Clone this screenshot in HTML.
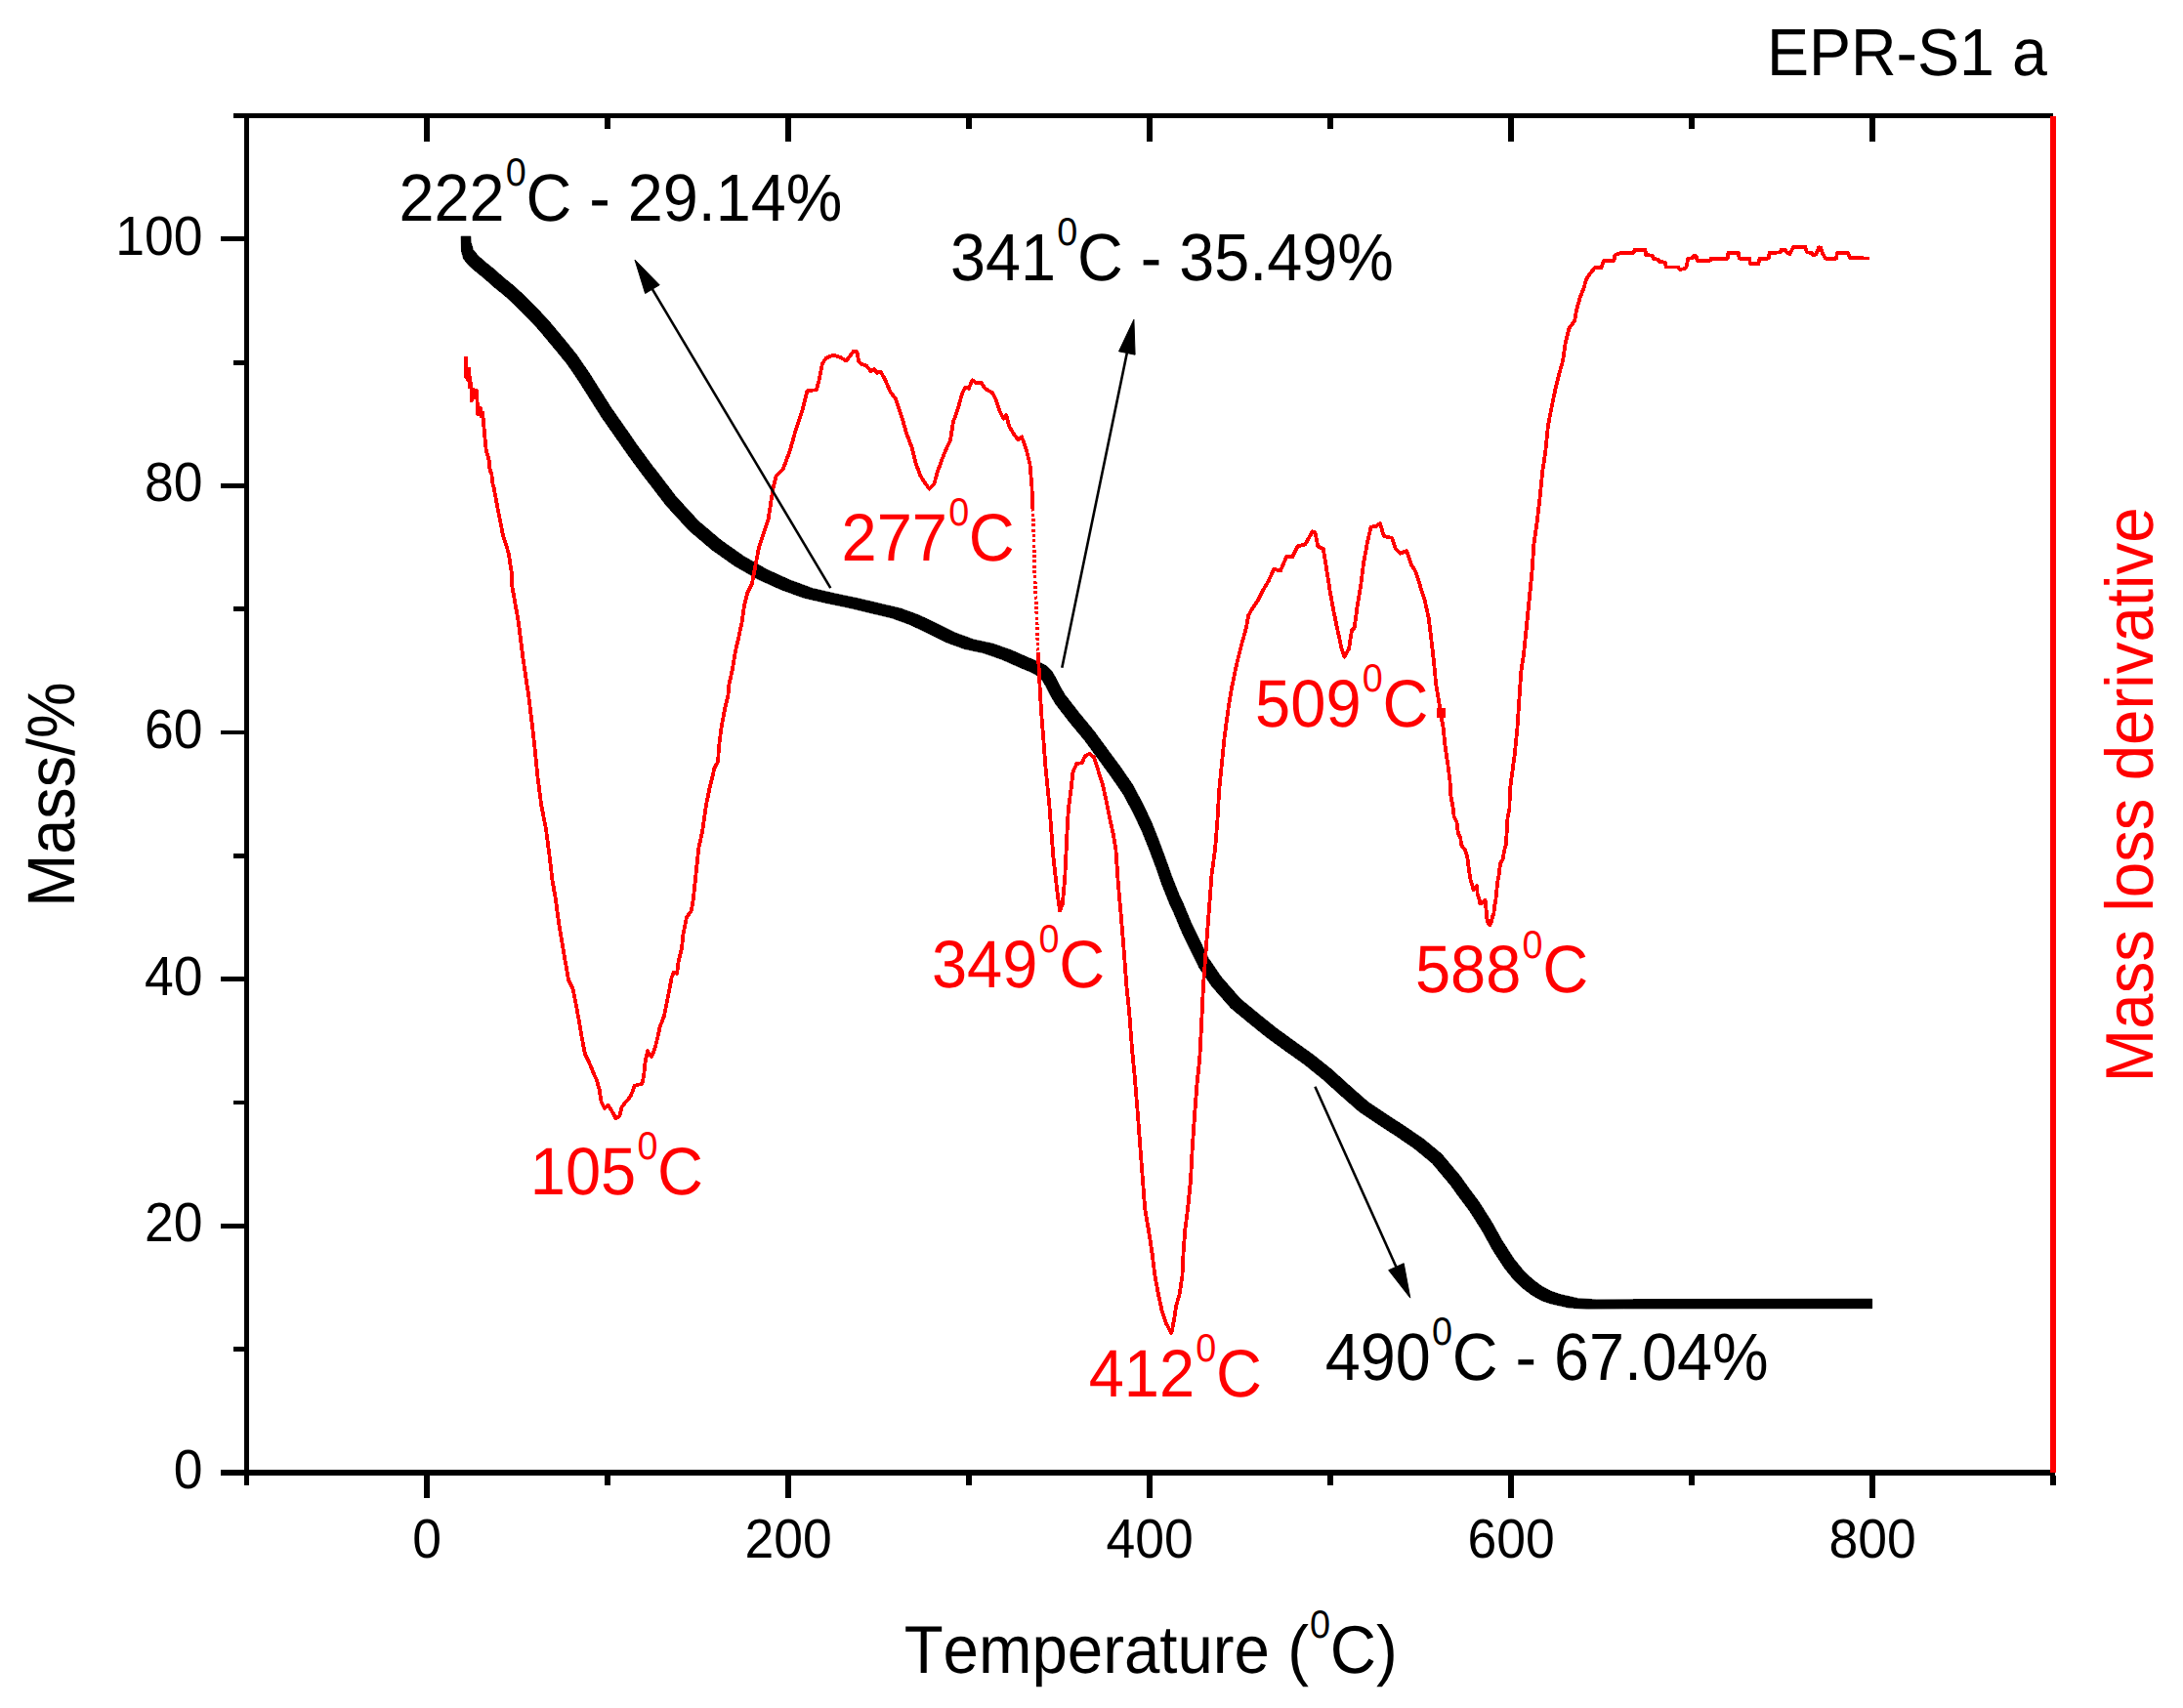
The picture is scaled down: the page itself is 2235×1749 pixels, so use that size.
<!DOCTYPE html>
<html lang="en"><head><meta charset="utf-8"><title>EPR-S1 a</title>
<style>html,body{margin:0;padding:0;background:#fff;}body{width:2235px;height:1749px;overflow:hidden;}svg{display:block;}text{font-family:"Liberation Sans", Arial, Helvetica, sans-serif;font-kerning:none;text-rendering:geometricPrecision;}</style></head><body>
<svg width="2235" height="1749" viewBox="0 0 2235 1749">
<rect x="0" y="0" width="2235" height="1749" fill="#ffffff"/>
<g fill="none" stroke-linejoin="round" shape-rendering="crispEdges">
<polygon points="481.9,242.0 482.2,248.0 484.4,255.5 489.6,261.9 497.1,268.5 506.4,276.0 515.8,284.4 525.1,291.9 534.5,300.3 543.9,309.8 553.2,319.1 562.6,329.4 572.0,340.6 581.4,351.9 590.6,363.4 598.1,374.4 604.0,383.1 625.8,417.6 644.9,444.9 652.6,456.1 668.2,477.3 674.0,484.6 691.6,507.8 715.1,533.5 738.6,553.4 762.0,569.9 785.4,583.2 808.8,593.9 832.2,602.5 855.6,607.9 879.1,612.8 903.6,618.6 922.4,623.0 941.1,629.9 959.8,638.8 978.6,648.1 997.2,654.9 1016.0,658.9 1034.8,665.4 1053.4,673.6 1064.2,678.1 1071.8,682.1 1076.8,687.1 1080.1,692.6 1084.8,701.9 1090.4,711.4 1104.9,730.0 1120.4,748.9 1134.0,767.5 1147.8,786.2 1159.9,803.9 1169.8,822.6 1178.8,841.4 1186.2,860.0 1193.2,878.9 1199.8,897.5 1207.2,916.2 1211.4,925.1 1219.2,943.9 1228.1,962.6 1237.4,981.4 1250.1,1000.0 1269.8,1022.6 1288.5,1038.1 1307.2,1053.1 1325.9,1066.7 1344.8,1080.2 1363.5,1095.2 1382.3,1112.2 1401.0,1128.6 1419.8,1141.2 1438.5,1153.4 1457.2,1166.1 1475.9,1181.5 1494.8,1204.0 1501.8,1213.9 1514.3,1230.7 1527.4,1251.4 1537.8,1270.1 1549.9,1288.9 1559.8,1301.1 1569.1,1310.0 1578.5,1317.0 1587.8,1322.1 1597.2,1325.4 1615.9,1329.6 1634.8,1330.8 1672.2,1330.5 1916.6,1330.1 1916.6,1339.8 1662.6,1340.1 1625.1,1340.4 1606.2,1339.2 1587.6,1335.0 1578.2,1331.8 1568.9,1326.6 1559.5,1319.6 1550.1,1310.8 1540.2,1298.5 1528.1,1279.8 1517.8,1261.0 1504.7,1240.3 1492.1,1223.5 1485.1,1213.6 1466.2,1191.1 1447.6,1175.8 1428.9,1163.0 1410.1,1150.8 1391.4,1138.2 1372.7,1121.8 1353.9,1104.9 1335.2,1089.8 1316.2,1076.3 1297.6,1062.8 1278.9,1047.8 1260.1,1032.2 1240.5,1009.8 1227.8,991.1 1218.5,972.4 1209.6,953.6 1201.8,934.9 1197.6,926.0 1190.1,907.2 1183.6,888.6 1176.6,869.8 1169.1,851.1 1160.2,832.4 1150.2,813.6 1138.1,796.0 1124.4,777.2 1110.8,758.6 1095.2,739.8 1080.8,721.1 1075.2,711.6 1070.5,702.4 1067.2,696.9 1062.2,691.9 1054.6,687.9 1043.8,683.4 1025.1,675.1 1006.2,668.6 987.5,664.6 968.9,657.9 950.0,648.5 931.4,639.6 912.6,632.8 893.9,628.4 869.4,622.5 845.9,617.6 822.5,612.2 799.0,603.6 775.6,593.0 752.2,579.6 728.9,563.1 705.4,543.2 681.9,517.5 664.2,494.4 658.5,487.1 642.9,465.9 635.1,454.7 616.0,427.4 594.2,392.9 588.4,384.2 580.9,373.2 571.6,361.7 562.2,350.4 552.9,339.2 543.5,328.9 534.1,319.5 524.8,310.1 515.4,301.7 506.0,294.2 496.6,285.8 487.3,278.2 479.8,271.7 474.6,265.2 472.5,257.7 472.1,242.0" fill="#000000" stroke="#000000" stroke-width="0.6" stroke-linejoin="round"/>
<polyline points="477.0,365.1 476.7,385.9 478.1,377.5 478.6,388.7 480.4,377.5 480.9,396.2 482.3,392.5 482.8,410.3 485.1,399.0 486.1,407.4 487.9,400.0 488.9,417.8 489.3,424.3 491.7,417.8 492.6,426.2 494.0,422.4 495.0,431.8 495.9,443.0 496.8,452.4 497.8,461.8 499.2,465.5 500.6,471.1 501.5,480.5 503.4,486.1 504.3,494.6 505.7,500.0 510.3,524.4 514.9,547.9 520.8,566.6 524.3,590.0 524.3,600.0 530.9,637.5 535.6,674.9 541.2,712.4 544.9,742.4 547.8,768.6 550.6,796.7 554.3,824.8 559.0,849.2 562.7,877.3 565.3,900.0 568.9,921.1 571.7,942.2 575.2,963.2 578.7,984.3 582.2,1004.0 586.4,1012.4 589.9,1029.3 592.7,1044.7 595.5,1061.6 599.1,1079.9 603.3,1088.3 606.8,1096.7 611.0,1106.5 613.8,1116.4 615.6,1128.4 618.9,1135.0 622.8,1131.7 626.1,1137.2 628.3,1141.0 630.5,1145.4 634.3,1142.7 636.5,1133.9 639.8,1129.5 643.1,1126.2 646.4,1120.7 649.7,1111.9 657.4,1109.7 659.1,1102.0 660.2,1091.0 660.9,1085.5 663.0,1076.3 667.2,1082.0 670.7,1072.8 673.5,1061.6 675.6,1051.7 679.9,1040.5 682.7,1026.5 685.5,1012.4 687.6,1001.2 689.7,995.5 693.2,997.0 694.6,984.3 698.1,970.3 699.5,956.2 703.0,939.3 708.0,932.3 710.1,918.3 712.6,894.2 715.4,867.9 719.2,851.1 722.9,824.8 726.7,806.1 729.5,794.9 731.4,786.4 735.1,779.9 736.0,764.9 738.9,742.4 742.6,723.7 745.4,712.4 746.3,701.2 750.1,684.3 752.9,667.4 756.7,650.6 759.5,637.5 762.3,618.7 765.1,607.5 769.8,598.0 777.2,559.6 786.6,531.5 791.3,501.0 794.8,487.0 801.8,480.0 808.9,461.2 814.7,440.1 821.7,419.1 826.4,400.3 835.8,399.2 838.5,390.0 840.0,381.8 841.9,372.5 845.6,366.8 853.1,363.5 860.6,365.9 866.2,369.6 870.0,365.0 873.7,359.7 877.5,360.3 879.3,370.6 883.1,373.4 886.8,374.3 891.5,380.0 895.3,378.1 898.1,381.8 901.8,380.9 906.5,389.3 911.2,400.6 916.8,408.1 920.6,419.3 924.3,430.5 928.1,443.7 933.7,458.6 937.4,473.6 942.1,486.7 946.8,494.2 951.5,500.8 956.2,496.1 959.9,483.0 964.6,469.9 969.3,458.6 973.0,451.1 975.8,432.4 980.5,419.3 985.2,402.4 988.0,396.8 991.8,397.8 995.5,389.3 999.3,392.1 1004.9,392.1 1008.6,397.8 1016.1,402.4 1019.9,409.9 1023.6,421.2 1027.4,428.7 1030.2,424.9 1033.0,436.2 1038.6,445.5 1042.3,450.2 1046.1,447.4 1050.8,460.5 1054.5,475.5 1056.4,498.0 1057.3,520.5" stroke="#ff0000" stroke-width="3.8"/>
<polyline points="1057.3,520.5 1058.3,544.8 1059.4,590.0 1061.3,627.5 1062.8,668.0" stroke="#ff0000" stroke-width="3.6" stroke-dasharray="3 2.3"/>
<polyline points="1062.8,668.0 1063.6,683.7 1065.0,711.8 1066.9,739.9 1067.8,750.0 1070.4,784.8 1074.2,822.3 1075.5,840.0 1078.4,877.5 1082.2,911.2 1085.0,932.7 1087.8,926.2 1090.2,900.0 1091.5,873.0 1092.5,852.3 1093.9,827.9 1096.7,807.3 1098.5,790.4 1102.3,782.0 1107.9,781.1 1110.7,774.5 1115.4,771.7 1120.1,775.5 1124.8,790.4 1128.5,801.7 1132.3,818.5 1136.0,837.0 1139.5,853.0 1142.3,868.5 1144.9,905.6 1147.7,937.4 1150.5,971.1 1153.3,1008.6 1156.2,1036.7 1159.0,1074.2 1161.5,1100.0 1164.6,1137.5 1167.4,1174.9 1170.3,1212.4 1172.1,1236.8 1175.9,1259.3 1179.6,1283.6 1182.4,1306.1 1186.2,1326.7 1189.9,1343.6 1193.7,1354.8 1199.4,1365.0 1202.1,1351.1 1204.0,1337.9 1207.7,1324.8 1210.5,1306.1 1211.5,1283.6 1213.3,1259.3 1216.2,1236.8 1219.0,1208.7 1220.8,1174.9 1223.2,1140.0 1225.5,1110.0 1228.3,1083.6 1230.2,1046.1 1232.0,1008.6 1234.8,971.1 1237.7,933.7 1240.5,896.2 1244.2,868.1 1246.5,839.0 1248.1,810.4 1250.9,782.3 1253.7,754.2 1257.5,726.1 1261.2,703.6 1265.9,681.1 1271.5,658.6 1276.2,641.8 1278.1,630.5 1282.8,622.1 1287.4,615.6 1293.1,604.3 1298.7,594.9 1304.3,582.8 1310.9,584.6 1317.4,569.6 1323.0,570.6 1328.7,559.3 1336.2,557.5 1343.7,544.4 1346.5,545.3 1349.3,559.3 1354.9,562.2 1357.7,580.0 1361.5,604.3 1365.2,624.9 1369.9,647.4 1373.6,664.3 1376.4,672.7 1381.1,664.3 1383.9,645.5 1386.7,642.7 1389.6,621.2 1393.3,598.7 1396.1,576.2 1399.9,555.6 1403.6,539.7 1409.2,538.7 1413.0,535.9 1416.7,549.0 1425.2,550.9 1428.9,562.2 1433.6,566.8 1440.1,564.0 1444.8,578.1 1449.5,585.6 1454.2,600.6 1458.9,615.6 1462.6,632.4 1465.4,654.9 1468.2,679.3 1470.1,699.9 1472.9,716.7 1474.8,729.8 1477.6,744.8 1479.5,763.6 1482.3,782.3 1484.5,800.0 1485.3,814.1 1487.8,828.1 1488.7,836.5 1491.5,842.2 1492.9,853.4 1495.3,858.1 1496.2,865.6 1500.0,870.3 1502.3,877.8 1503.7,889.0 1505.6,901.2 1507.9,907.7 1508.5,911.0 1512.1,906.8 1512.6,915.2 1514.9,921.8 1515.4,925.5 1517.8,924.6 1520.6,921.8 1521.5,931.1 1522.4,940.5 1523.8,946.1 1525.2,947.5 1526.7,944.3 1528.1,938.6 1529.5,934.9 1529.9,929.3 1531.3,921.8 1532.3,912.4 1533.2,903.0 1534.6,896.5 1536.0,884.3 1538.8,879.6 1539.8,872.1 1541.6,865.6 1542.6,853.4 1543.5,837.5 1545.4,828.1 1545.9,809.4 1547.1,800.0 1550.7,772.9 1553.5,744.8 1555.4,716.7 1557.2,688.6 1560.0,669.9 1562.9,641.8 1565.7,613.7 1568.5,585.6 1570.4,557.5 1573.4,536.5 1576.5,510.4 1579.3,482.3 1582.2,463.6 1585.0,435.5 1588.7,416.7 1592.5,398.0 1596.2,383.0 1600.0,369.9 1602.8,351.1 1606.5,336.2 1612.1,328.7 1614.0,317.4 1617.8,304.3 1621.5,294.9 1624.3,285.6 1628.1,280.0 1632.7,274.3 1639.3,274.3 1642.1,266.8 1652.4,266.8 1653.3,261.2 1659.0,259.3 1672.1,259.0 1674.0,255.6 1684.3,255.6 1685.2,261.2 1691.8,261.6 1692.7,264.6 1697.4,265.9 1699.3,267.8 1704.9,268.7 1705.8,273.4 1718.0,273.4 1719.9,275.8 1724.5,275.3 1726.4,273.4 1728.3,265.0 1733.0,264.0 1734.8,261.6 1736.7,262.2 1737.7,266.8 1750.8,266.8 1751.7,264.6 1768.6,264.6 1769.5,259.0 1779.8,259.0 1780.7,264.6 1791.1,264.6 1792.0,270.2 1800.4,270.2 1801.4,265.0 1810.7,264.6 1811.7,259.0 1822.9,258.4 1823.8,255.6 1827.6,255.6 1829.5,258.4 1832.3,260.3 1836.0,252.8 1848.2,252.8 1850.1,258.4 1854.8,259.0 1856.6,261.2 1859.4,260.3 1862.2,253.3 1864.1,253.7 1866.0,259.3 1868.8,264.6 1880.0,264.6 1881.0,259.0 1892.2,259.0 1894.1,264.0 1913.8,264.6" stroke="#ff0000" stroke-width="3.8"/>
<rect x="1470.6" y="725.2" width="9.2" height="9.4" fill="#ff0000" stroke="none"/>
</g>
<g stroke="#000000" fill="none" shape-rendering="crispEdges">
<line x1="252.5" y1="115.9" x2="252.5" y2="1521" stroke-width="5.2"/>
<line x1="239.2" y1="118.5" x2="2101.8" y2="118.5" stroke-width="5.2"/>
<line x1="226" y1="1507.9" x2="2104.4" y2="1507.9" stroke-width="5.2"/>
<line x1="437.0" y1="1510.5" x2="437.0" y2="1534.0" stroke-width="5.2"/>
<line x1="437.0" y1="121.1" x2="437.0" y2="144.6" stroke-width="5.2"/>
<line x1="622.0" y1="1510.5" x2="622.0" y2="1521.0" stroke-width="5.2"/>
<line x1="622.0" y1="121.1" x2="622.0" y2="131.6" stroke-width="5.2"/>
<line x1="807.0" y1="1510.5" x2="807.0" y2="1534.0" stroke-width="5.2"/>
<line x1="807.0" y1="121.1" x2="807.0" y2="144.6" stroke-width="5.2"/>
<line x1="992.0" y1="1510.5" x2="992.0" y2="1521.0" stroke-width="5.2"/>
<line x1="992.0" y1="121.1" x2="992.0" y2="131.6" stroke-width="5.2"/>
<line x1="1177.0" y1="1510.5" x2="1177.0" y2="1534.0" stroke-width="5.2"/>
<line x1="1177.0" y1="121.1" x2="1177.0" y2="144.6" stroke-width="5.2"/>
<line x1="1362.0" y1="1510.5" x2="1362.0" y2="1521.0" stroke-width="5.2"/>
<line x1="1362.0" y1="121.1" x2="1362.0" y2="131.6" stroke-width="5.2"/>
<line x1="1547.0" y1="1510.5" x2="1547.0" y2="1534.0" stroke-width="5.2"/>
<line x1="1547.0" y1="121.1" x2="1547.0" y2="144.6" stroke-width="5.2"/>
<line x1="1732.0" y1="1510.5" x2="1732.0" y2="1521.0" stroke-width="5.2"/>
<line x1="1732.0" y1="121.1" x2="1732.0" y2="131.6" stroke-width="5.2"/>
<line x1="1917.0" y1="1510.5" x2="1917.0" y2="1534.0" stroke-width="5.2"/>
<line x1="1917.0" y1="121.1" x2="1917.0" y2="144.6" stroke-width="5.2"/>
<line x1="2102.0" y1="1510.5" x2="2102.0" y2="1521.0" stroke-width="5.2"/>
<line x1="249.9" y1="1381.6" x2="239.2" y2="1381.6" stroke-width="4.9"/>
<line x1="249.9" y1="1255.3" x2="226" y2="1255.3" stroke-width="4.9"/>
<line x1="249.9" y1="1129.0" x2="239.2" y2="1129.0" stroke-width="4.9"/>
<line x1="249.9" y1="1002.7" x2="226" y2="1002.7" stroke-width="4.9"/>
<line x1="249.9" y1="876.4" x2="239.2" y2="876.4" stroke-width="4.9"/>
<line x1="249.9" y1="750.0" x2="226" y2="750.0" stroke-width="4.9"/>
<line x1="249.9" y1="623.7" x2="239.2" y2="623.7" stroke-width="4.9"/>
<line x1="249.9" y1="497.4" x2="226" y2="497.4" stroke-width="4.9"/>
<line x1="249.9" y1="371.1" x2="239.2" y2="371.1" stroke-width="4.9"/>
<line x1="249.9" y1="244.8" x2="226" y2="244.8" stroke-width="4.9"/>
</g>
<line x1="2101.8" y1="118.5" x2="2101.8" y2="1507.9" stroke="#ff0000" stroke-width="5.4" shape-rendering="crispEdges"/>
<text transform="translate(437.0,1594.9) scale(1,1.058)" font-size="53.5" fill="#000000" text-anchor="middle">0</text>
<text transform="translate(807.0,1594.9) scale(1,1.058)" font-size="53.5" fill="#000000" text-anchor="middle">200</text>
<text transform="translate(1177.0,1594.9) scale(1,1.058)" font-size="53.5" fill="#000000" text-anchor="middle">400</text>
<text transform="translate(1547.0,1594.9) scale(1,1.058)" font-size="53.5" fill="#000000" text-anchor="middle">600</text>
<text transform="translate(1917.0,1594.9) scale(1,1.058)" font-size="53.5" fill="#000000" text-anchor="middle">800</text>
<text transform="translate(207.5,1523.9) scale(1,1.058)" font-size="53.5" fill="#000000" text-anchor="end">0</text>
<text transform="translate(207.5,1271.3) scale(1,1.058)" font-size="53.5" fill="#000000" text-anchor="end">20</text>
<text transform="translate(207.5,1018.7) scale(1,1.058)" font-size="53.5" fill="#000000" text-anchor="end">40</text>
<text transform="translate(207.5,766.0) scale(1,1.058)" font-size="53.5" fill="#000000" text-anchor="end">60</text>
<text transform="translate(207.5,513.4) scale(1,1.058)" font-size="53.5" fill="#000000" text-anchor="end">80</text>
<text transform="translate(207.5,260.8) scale(1,1.058)" font-size="53.5" fill="#000000" text-anchor="end">100</text>
<text transform="translate(1809.0,77.0) scale(1,1.058)" font-size="64.5" fill="#000000" text-anchor="start">EPR-S1 a</text>
<text transform="translate(1178.2,1713.0) scale(1,1.058)" font-size="65.4" fill="#000000" text-anchor="middle">Temperature (<tspan font-size="37.8" dx="1.2" dy="-33.65">0</tspan><tspan dx="-0.4" dy="33.65">C)</tspan></text>
<text transform="translate(76.3,813.5) rotate(-90) scale(1,1.058)" font-size="64.8" fill="#000000" text-anchor="middle">Mass/%</text>
<text transform="translate(2203.6,813.8) rotate(-90) scale(1,1.058)" font-size="65.4" fill="#ff0000" text-anchor="middle">Mass loss derivative</text>
<text transform="translate(408.6,225.9) scale(1,1.058)" font-size="64.75" fill="#000000" text-anchor="start">222<tspan font-size="37.8" dx="1.2" dy="-33.65">0</tspan><tspan dx="-0.4" dy="33.65">C - 29.14%</tspan></text>
<text transform="translate(973.0,287.0) scale(1,1.058)" font-size="64.75" fill="#000000" text-anchor="start">341<tspan font-size="37.8" dx="1.2" dy="-33.65">0</tspan><tspan dx="-0.4" dy="33.65">C - 35.49%</tspan></text>
<text transform="translate(1356.8,1412.6) scale(1,1.058)" font-size="64.75" fill="#000000" text-anchor="start">490<tspan font-size="37.8" dx="1.2" dy="-33.65">0</tspan><tspan dx="-0.4" dy="33.65">C - 67.04%</tspan></text>
<text transform="translate(861.5,573.9) scale(1,1.058)" font-size="65.0" fill="#ff0000" text-anchor="start">277<tspan font-size="37.8" dx="1.2" dy="-33.65">0</tspan><tspan dx="-0.4" dy="33.65">C</tspan></text>
<text transform="translate(953.9,1010.9) scale(1,1.058)" font-size="65.0" fill="#ff0000" text-anchor="start">349<tspan font-size="37.8" dx="1.2" dy="-33.65">0</tspan><tspan dx="-0.4" dy="33.65">C</tspan></text>
<text transform="translate(1285.1,743.9) scale(1,1.058)" font-size="65.0" fill="#ff0000" text-anchor="start">509<tspan font-size="37.8" dx="1.2" dy="-33.65">0</tspan><tspan dx="-0.4" dy="33.65">C</tspan></text>
<text transform="translate(1448.9,1016.2) scale(1,1.058)" font-size="65.0" fill="#ff0000" text-anchor="start">588<tspan font-size="37.8" dx="1.2" dy="-33.65">0</tspan><tspan dx="-0.4" dy="33.65">C</tspan></text>
<text transform="translate(542.8,1222.9) scale(1,1.058)" font-size="65.0" fill="#ff0000" text-anchor="start">105<tspan font-size="37.8" dx="1.2" dy="-33.65">0</tspan><tspan dx="-0.4" dy="33.65">C</tspan></text>
<text transform="translate(1114.7,1429.8) scale(1,1.058)" font-size="65.0" fill="#ff0000" text-anchor="start">412<tspan font-size="37.8" dx="1.2" dy="-33.65">0</tspan><tspan dx="-0.4" dy="33.65">C</tspan></text>
<line x1="850.3" y1="602.2" x2="667.9" y2="296.2" stroke="#000" stroke-width="2.6"/><polygon points="650.0,266.1 675.2,291.8 660.6,300.5" fill="#000" stroke="#000" stroke-width="1" stroke-linejoin="round"/>
<line x1="1087.3" y1="683.7" x2="1153.8" y2="361.5" stroke="#000" stroke-width="2.6"/><polygon points="1160.9,327.2 1162.1,363.2 1145.5,359.8" fill="#000" stroke="#000" stroke-width="1" stroke-linejoin="round"/>
<line x1="1346.4" y1="1112.7" x2="1429.4" y2="1297.2" stroke="#000" stroke-width="2.6"/><polygon points="1443.8,1329.1 1421.7,1300.7 1437.2,1293.7" fill="#000" stroke="#000" stroke-width="1" stroke-linejoin="round"/>
</svg></body></html>
